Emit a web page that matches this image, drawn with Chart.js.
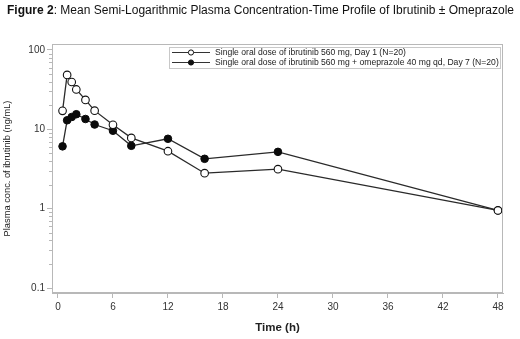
<!DOCTYPE html>
<html><head><meta charset="utf-8">
<script src="https://cdn.jsdelivr.net/npm/chart.js@4"></script>
<style>
html,body{margin:0;padding:0;background:#fff;}
#wrap{position:relative;width:520px;height:339px;}
#title{position:absolute;left:7px;top:3px;font-family:"Liberation Sans",Arial,sans-serif;font-size:12px;color:#111;white-space:nowrap;}
canvas{position:absolute;left:0;top:0;}
</style></head>
<body>
<div id="wrap">
<canvas id="c" width="520" height="339"></canvas>
<div id="title"><b>Figure 2</b>: Mean Semi-Logarithmic Plasma Concentration-Time Profile of Ibrutinib ± Omeprazole</div>
</div>
<script>
const timesDay1 = [0.5, 1, 1.5, 2, 3, 4, 6, 8, 12, 16, 24, 48];
const concDay1 = [17.1, 48.5, 39.5, 31.8, 23.5, 17.2, 11.4, 7.8, 5.3, 2.8, 3.15, 0.95];
const timesDay7 = [0.5, 1, 1.5, 2, 3, 4, 6, 8, 12, 16, 24, 48];
const concDay7 = [6.1, 13.0, 14.3, 15.5, 13.5, 11.5, 9.6, 6.2, 7.6, 4.25, 5.2, 0.95];
const xTicks = [0, 6, 12, 18, 24, 30, 36, 42, 48];
const yTicks = [0.1, 1, 10, 100];
const legendLabels = [
  'Single oral dose of ibrutinib 560 mg, Day 1 (N=20)',
  'Single oral dose of ibrutinib 560 mg + omeprazole 40 mg qd, Day 7 (N=20)'
];
const yTitle = 'Plasma conc. of ibrutinib (ng/mL)';
const xTitle = 'Time (h)';

const FONT = '"Liberation Sans", Arial, sans-serif';
const AX = '#b8b8b8';

const frame = {
  id: 'frame',
  afterDraw(chart) {
    const {ctx, chartArea: a} = chart;
    ctx.save();
    ctx.strokeStyle = AX; ctx.lineWidth = 1;
    ctx.strokeRect(a.left + 0.5, a.top + 0.5, a.right - a.left - 1, a.bottom - a.top - 1);
    // minor ticks on y axis
    const ys = chart.scales.y;
    for (let d = -1; d <= 2; d++) {
      for (let m = 2; m <= 9; m++) {
        const v = m * Math.pow(10, d);
        if (v < ys.min || v > ys.max) continue;
        const py = Math.round(ys.getPixelForValue(v)) + 0.5;
        ctx.beginPath(); ctx.moveTo(a.left - 3, py); ctx.lineTo(a.left, py); ctx.stroke();
      }
    }
    // legend
    const bx = 169, by = 47, bw = 331, bh = 21;
    ctx.fillStyle = '#fff';
    ctx.fillRect(bx, by, bw, bh);
    ctx.strokeStyle = '#c8c8c8';
    ctx.strokeRect(bx + 0.5, by + 0.5, bw, bh);
    ctx.font = '8.6px ' + FONT;
    ctx.textBaseline = 'middle';
    ctx.fillStyle = '#222';
    legendLabels.forEach((lab, i) => {
      const cy = by + 5.5 + i * 10;
      ctx.strokeStyle = '#333'; ctx.lineWidth = 1.2;
      ctx.beginPath(); ctx.moveTo(172, cy); ctx.lineTo(210, cy); ctx.stroke();
      ctx.beginPath(); ctx.arc(191, cy, 2.6, 0, Math.PI * 2);
      ctx.fillStyle = i === 0 ? '#fff' : '#111';
      ctx.fill(); ctx.strokeStyle = '#111'; ctx.lineWidth = 1; ctx.stroke();
      ctx.fillStyle = '#222';
      ctx.fillText(lab, 215, cy + 0.5);
    });
    ctx.restore();
  }
};

new Chart(document.getElementById('c'), {
  type: 'line',
  data: {
    datasets: [
      {
        label: legendLabels[0],
        data: timesDay1.map((t, i) => ({x: t, y: concDay1[i]})),
        borderColor: '#2a2a2a', borderWidth: 1.3,
        pointStyle: 'circle', pointRadius: 3.8, pointBorderWidth: 1.1,
        pointBackgroundColor: '#fff', pointBorderColor: '#111',
        tension: 0
      },
      {
        label: legendLabels[1],
        data: timesDay7.map((t, i) => ({x: t, y: concDay7[i]})),
        borderColor: '#2a2a2a', borderWidth: 1.3,
        pointStyle: 'circle', pointRadius: 3.8, pointBorderWidth: 1,
        pointBackgroundColor: '#0a0a0a', pointBorderColor: '#0a0a0a',
        tension: 0
      }
    ]
  },
  options: {
    responsive: false,
    animation: false,
    devicePixelRatio: 1,
    layout: {padding: {top: 44, right: 17, left: 0, bottom: 0}},
    plugins: {legend: {display: false}, tooltip: {enabled: false}},
    scales: {
      x: {
        type: 'linear', min: -0.65, max: 48.55,
        afterBuildTicks: s => { s.ticks = xTicks.map(v => ({value: v})); },
        afterFit: s => { s.height = 46; },
        ticks: {font: {family: FONT, size: 10}, color: '#333', padding: 3, maxRotation: 0,
                callback: v => String(v)},
        grid: {drawOnChartArea: false, drawTicks: true, tickLength: 5, color: AX},
        border: {display: true, color: AX},
        title: {display: true, text: xTitle, font: {family: FONT, size: 11.5, weight: 'bold'},
                color: '#222', padding: {top: 2, bottom: 4}}
      },
      y: {
        type: 'logarithmic', min: 0.0865, max: 119,
        afterBuildTicks: s => { s.ticks = yTicks.map(v => ({value: v})); },
        afterFit: s => { s.width = 52; },
        ticks: {font: {family: FONT, size: 10}, color: '#333', padding: 2,
                callback: v => String(v)},
        grid: {drawOnChartArea: false, drawTicks: true, tickLength: 5, color: AX},
        border: {display: true, color: AX},
        title: {display: true, text: yTitle, font: {family: FONT, size: 9.3},
                color: '#222', padding: {top: 2, bottom: 0}}
      }
    }
  },
  plugins: [frame]
});
</script>
</body></html>
